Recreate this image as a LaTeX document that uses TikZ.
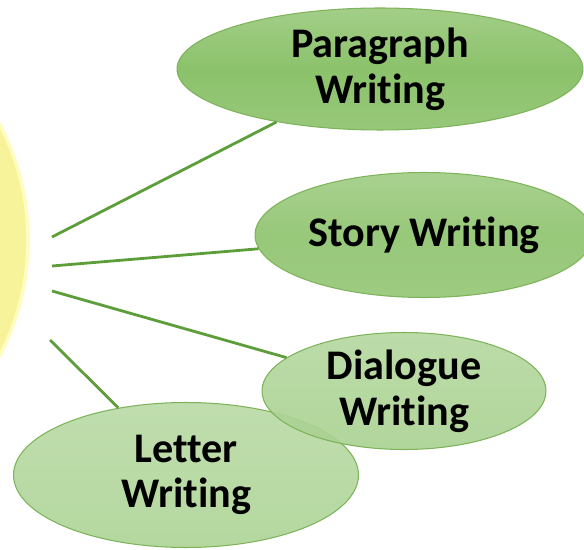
\documentclass[tikz,border=0pt]{standalone}
\usepackage{fontspec}
\setmainfont{Carlito}[Ligatures={NoCommon}]
\usetikzlibrary{shapes.geometric}

\definecolor{leafgreen}{HTML}{8CC26B}
\definecolor{leafrim}{HTML}{7DB35A}
\definecolor{linkgreen}{HTML}{5E9E3A}
\definecolor{sunyellow}{HTML}{F6F39A}

\begin{document}
\begin{tikzpicture}[
    x=0.02cm, y=-0.02cm,
    topic/.style={ellipse, draw=leafrim, line width=0.6pt, inner sep=0pt,
                  font=\bfseries\fontsize{24}{26}\selectfont, align=center},
    link/.style={linkgreen, line width=1.6pt},
]
\useasboundingbox (0,0) rectangle (584,550);
\clip (0,0) rectangle (584,550);

% central hub, mostly off the page
\node[circle, minimum size=10cm, fill=sunyellow, draw=yellow!25!white,
      line width=2pt] (hub) at (-222,240) {};

% free ends of the links
\coordinate (s1) at (52,237);
\coordinate (s2) at (52,266);
\coordinate (s3) at (52,291);
\coordinate (s4) at (50,340);

% topics
\node[topic, minimum width=8.12cm, minimum height=2.44cm,
      top color=leafgreen!80!white, bottom color=leafgreen!90!white, middle color=leafgreen]
      (para) at (380,69) {Paragraph\\Writing};
\node[topic, minimum width=6.76cm, minimum height=2.5cm,
      top color=leafgreen!75!white, bottom color=leafgreen!85!white, middle color=leafgreen!90!white]
      (story) at (424,235) {Story Writing};
\node[topic, minimum width=6.9cm, minimum height=2.9cm,
      top color=leafgreen!55!white, bottom color=leafgreen!65!white, middle color=leafgreen!60!white]
      (letter) at (186,475) {Letter\\Writing};
\node[topic, minimum width=5.68cm, minimum height=2.34cm, fill opacity=0.9, text opacity=1,
      top color=leafgreen!65!white, bottom color=leafgreen!75!white, middle color=leafgreen!70!white]
      (dialog) at (404,391) {Dialogue\\Writing};

% links from the hub
\draw[link] (s1) -- (para);
\draw[link] (s2) -- (story);
\draw[link] (s3) -- (dialog);
\draw[link] (s4) -- (letter);

\end{tikzpicture}
\end{document}
